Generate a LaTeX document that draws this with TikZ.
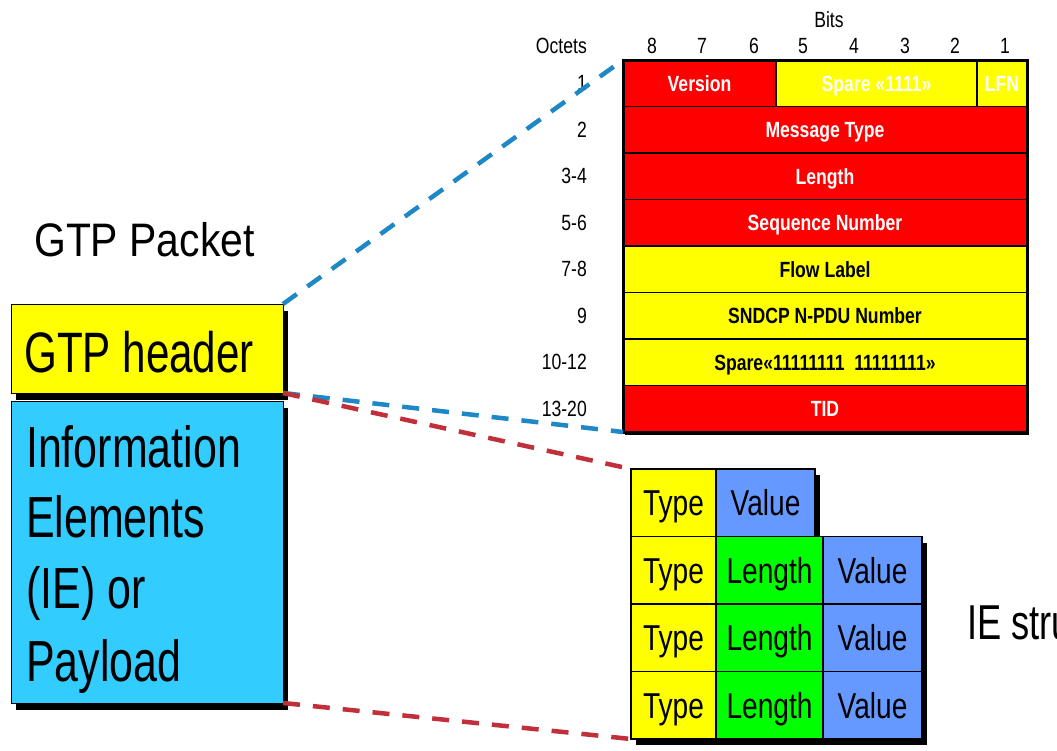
\documentclass[tikz,border=0pt]{standalone}
\usepackage{fontspec}
\setmainfont{Liberation Sans}
% condensed variants of the same family
\newfontfamily\titlefont[FakeStretch=0.87]{Liberation Sans}
\newfontfamily\bigfont[FakeStretch=0.74]{Liberation Sans}
\newfontfamily\gridfont[FakeStretch=0.78]{Liberation Sans}
\newfontfamily\tblfont[FakeStretch=0.8]{Liberation Sans}
\usetikzlibrary{backgrounds}
\pgfdeclarelayer{backdrop}
\pgfsetlayers{backdrop,background,main}

\definecolor{fieldred}{HTML}{FF0000}
\definecolor{fieldyellow}{HTML}{FFFF00}
\definecolor{payloadcyan}{HTML}{33CCFF}
\definecolor{valueblue}{HTML}{6699FF}
\definecolor{lengthgreen}{HTML}{00FF00}
\definecolor{linkblue}{HTML}{1E88C6}
\definecolor{linkred}{HTML}{C02F3A}

\begin{document}
\begin{tikzpicture}[x=1pt,y=-1pt,
  field/.style={draw=black, line width=1.6pt, anchor=north west, inner sep=0pt,
    outer sep=0pt, minimum height=46.5pt,
    font=\tblfont\fontsize{22}{24}\selectfont\bfseries, text height=16pt, text depth=0pt},
  redfield/.style={field, fill=fieldred, text=white},
  yelfield/.style={field, fill=fieldyellow, text=black},
  octlbl/.style={anchor=east, inner sep=0pt, font=\tblfont\fontsize{22}{24}\selectfont,
    text height=15.5pt, text depth=0pt},
  bitlbl/.style={anchor=base, inner sep=0pt, font=\tblfont\fontsize{22}{24}\selectfont},
  iecell/.style={draw=black, line width=1.5pt, anchor=north west, inner sep=0pt,
    outer sep=0pt, minimum height=67.5pt,
    font=\gridfont\fontsize{36}{40}\selectfont, text height=26pt, text depth=0pt},
  typecell/.style={iecell, fill=fieldyellow, minimum width=85pt},
  lencell/.style={iecell, fill=lengthgreen, minimum width=107pt},
  valcell/.style={iecell, fill=valueblue, minimum width=99pt},
  pktbox/.style={draw=black, line width=1pt, anchor=north west, inner sep=0pt,
    outer sep=0pt, minimum width=272pt},
  bigtext/.style={anchor=base west, inner sep=0pt, font=\bigfont\fontsize{57}{70}\selectfont},
  shadowfill/.style={fill=black},
  link/.style={line width=4.5pt, dash pattern=on 17pt off 13pt},
]
\useasboundingbox (0,0) rectangle (1057,750);
\begin{pgfonlayer}{backdrop}
  \fill[white] (0,0) rectangle (1057,750);
\end{pgfonlayer}

% ---------- GTP packet on the left ----------
\node[anchor=base west, inner sep=0pt, font=\titlefont\fontsize{47}{50}\selectfont]
  (pkttitle) at (34,256) {GTP Packet};
\node[pktbox, fill=fieldyellow, minimum height=89pt] (hdr) at (11,304) {};
\node[pktbox, fill=payloadcyan, minimum height=302pt] (pay) at (11,401) {};
\node[bigtext] (hdrtxt) at (24,372) {GTP header};
\node[bigtext, font=\bigfont\fontsize{58}{70}\selectfont] (ieA) at (26,467) {Information};
\node[bigtext, font=\bigfont\fontsize{58}{70}\selectfont] (ieB) at (26,537) {Elements};
\node[bigtext, font=\bigfont\fontsize{58}{70}\selectfont] (ieC) at (26,608) {(IE) or};
\node[bigtext, font=\bigfont\fontsize{58}{70}\selectfont] (ieD) at (26,681) {Payload};

% ---------- GTP header layout ----------
\node[anchor=base, inner sep=0pt, font=\tblfont\fontsize{22}{24}\selectfont] (bits) at (829,27) {Bits};
\node[anchor=base east, inner sep=0pt, font=\tblfont\fontsize{22}{24}\selectfont] (octets) at (587,53) {Octets};
\foreach \b/\x in {8/652,7/702,6/754,5/803,4/854,3/905,2/955,1/1005}
  \node[bitlbl] (bit\b) at (\x,53) {\b};

\node[redfield, minimum width=153pt] (ver) at (623,60) {Version};
\node[yelfield, minimum width=201pt, text=white] (spr) at (776,60) {Spare «1111»};
\node[yelfield, minimum width=50pt, text=white] (lfn) at (977,60) {LFN};
\node[redfield, minimum width=404pt] (msg) at (623,106.5) {Message Type};
\node[redfield, minimum width=404pt] (len) at (623,153) {Length};
\node[redfield, minimum width=404pt] (seq) at (623,199.5) {Sequence Number};
\node[yelfield, minimum width=404pt] (flow) at (623,246) {Flow Label};
\node[yelfield, minimum width=404pt] (npdu) at (623,292.5) {SNDCP N-PDU Number};
\node[yelfield, minimum width=404pt] (spare) at (623,339) {Spare«11111111~~11111111»};
\node[redfield, minimum width=404pt] (tid) at (623,385.5) {TID};
\draw[line width=3pt] (ver.north west) rectangle (tid.south east);

\node[octlbl] (o1) at (587,83) {1};
\node[octlbl] (o2) at (587,130) {2};
\node[octlbl] (o3) at (587,176) {3-4};
\node[octlbl] (o4) at (587,223) {5-6};
\node[octlbl] (o5) at (587,269) {7-8};
\node[octlbl] (o6) at (587,316) {9};
\node[octlbl] (o7) at (587,362) {10-12};
\node[octlbl] (o8) at (587,409) {13-20};

% ---------- IE structure grid ----------
\node[typecell] (t1) at (631,469) {Type};
\node[valcell] (v1) at (716,469) {Value};
\node[typecell] (t2) at (631,536.5) {Type};
\node[lencell] (l2) at (716,536.5) {Length};
\node[valcell] (v2) at (823,536.5) {Value};
\node[typecell] (t3) at (631,604) {Type};
\node[lencell] (l3) at (716,604) {Length};
\node[valcell] (v3) at (823,604) {Value};
\node[typecell] (t4) at (631,671.5) {Type};
\node[lencell] (l4) at (716,671.5) {Length};
\node[valcell] (v4) at (823,671.5) {Value};

\begin{scope}
  \clip (0,0) rectangle (1057,750);
  \node[anchor=base west, inner sep=0pt, font=\bigfont\fontsize{49}{52}\selectfont]
    (iestruct) at (967,639) {IE structure};
\end{scope}

% ---------- drop shadows ----------
\begin{pgfonlayer}{background}
  \fill[shadowfill] ([shift={(5,7)}]hdr.north west) rectangle ([shift={(5,7)}]hdr.south east);
  \fill[shadowfill] ([shift={(5,7)}]pay.north west) rectangle ([shift={(5,7)}]pay.south east);
  \fill[shadowfill] ([shift={(2,3)}]ver.north west) rectangle ([shift={(2,3)}]tid.south east);
  \fill[shadowfill] ([shift={(5,6)}]t1.north west) rectangle ([shift={(5,6)}]v1.south east);
  \fill[shadowfill] ([shift={(5,6)}]t2.north west) rectangle ([shift={(5,6)}]v4.south east);
\end{pgfonlayer}

% ---------- zoom connectors ----------
\draw[link, linkblue] (hdr.north east) -- (ver.north west);
\draw[link, linkblue] (hdr.south east) -- (tid.south west);
\draw[link, linkred] (hdr.south east) -- (t1.north west);
\draw[link, linkred] (pay.south east) -- (t4.south west);
\end{tikzpicture}
\end{document}
